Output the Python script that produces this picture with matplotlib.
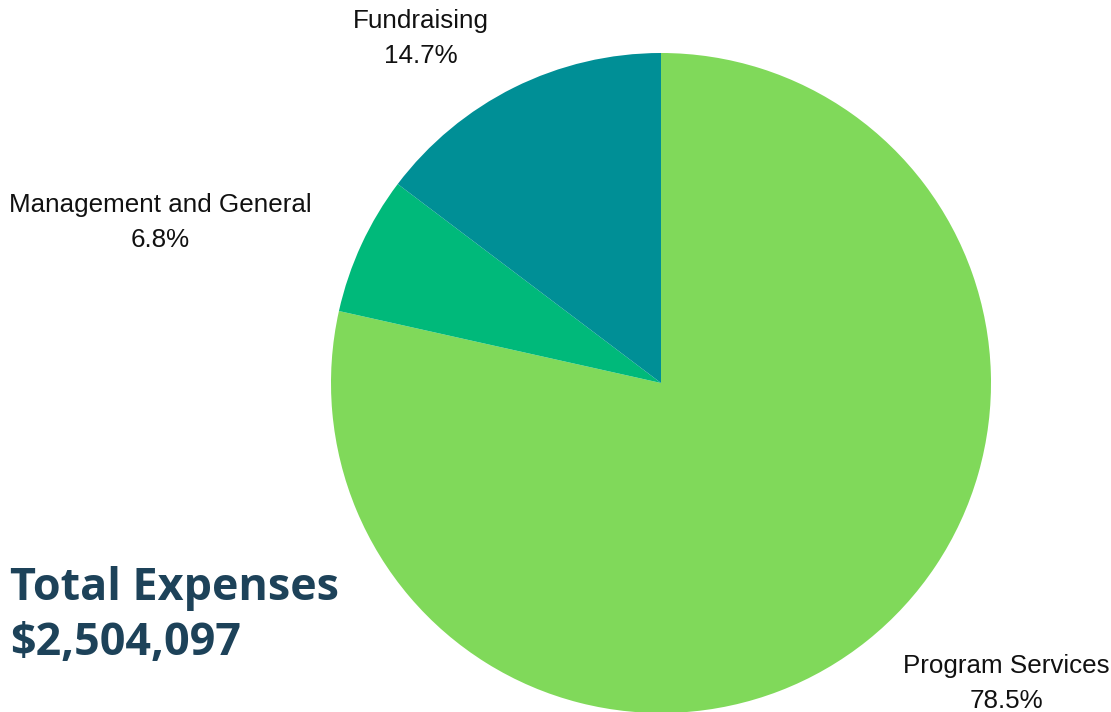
import matplotlib.pyplot as plt

W, H = 1111, 712

labels = ['Program Services', 'Management and General', 'Fundraising']
shares = [78.5, 6.8, 14.7]
colors = ['#80d95a', '#00b97a', '#008f96']
total = '$2,504,097'


def main():
    plt.rcParams['font.family'] = ['Liberation Sans', 'DejaVu Sans']
    fig = plt.figure(figsize=(W / 100, H / 100), dpi=100)
    ax = fig.add_axes([0, 0, 1, 1])

    # pie centre / radius in pixels, y measured from the bottom
    ax.pie(shares, colors=colors, startangle=90, counterclock=False,
           center=(661, H - 383), radius=330, frame=True,
           wedgeprops={'linewidth': 0})
    ax.set_xlim(0, W)
    ax.set_ylim(0, H)
    ax.set_aspect('equal')
    ax.axis('off')

    # label positions (pixels)
    pos = {'Program Services': (1006, 666),
           'Management and General': (160, 205),
           'Fundraising': (421, 21)}
    for name, val in zip(labels, shares):
        x, y = pos[name]
        ax.text(x, H - y, name, ha='center', va='center', fontsize=18.7, color='#111111')
        ax.text(x, H - y - 35, f'{val}%', ha='center', va='center', fontsize=18.7, color='#111111')

    ax.text(10, H - 600, 'Total Expenses', ha='left', va='baseline', fontsize=32.3,
            fontweight='bold', family=['Open Sans', 'DejaVu Sans'], color='#1d4259')
    ax.text(10, H - 655, total, ha='left', va='baseline', fontsize=32.3,
            fontweight='bold', family=['Open Sans', 'DejaVu Sans'], color='#1d4259')

    fig.savefig('out.png', dpi=100)


if __name__ == '__main__':
    main()
